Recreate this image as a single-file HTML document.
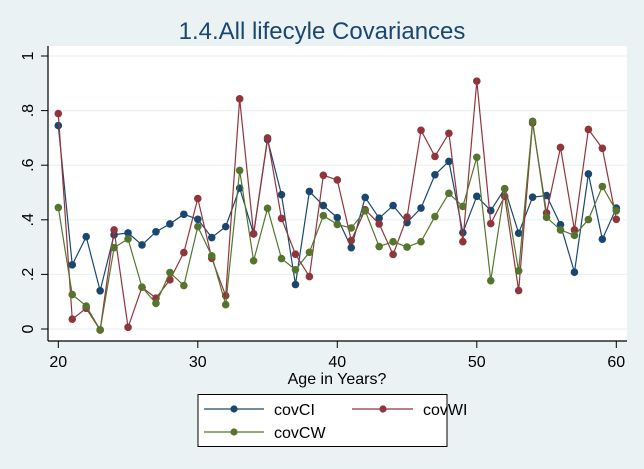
<!DOCTYPE html>
<html><head><meta charset="utf-8"><style>
body{margin:0;background:#eaf2f3;}
svg{display:block;font-family:"Liberation Sans",Arial,sans-serif;}
</style></head><body>
<svg id="chart" width="644" height="469" viewBox="0 0 644 469">
<rect x="0" y="0" width="644" height="469" fill="#eaf2f3"/>
<text x="322" y="39" text-anchor="middle" font-size="24" fill="#1a476f">1.4.All lifecyle Covariances</text>
<rect x="48" y="46" width="579" height="295" fill="#ffffff"/>
<g id="grid"></g>
<g id="axes"></g>
<g id="series"></g>
<text x="337" y="384" text-anchor="middle" font-size="16" fill="#000">Age in Years?</text>
<g>
<rect x="198" y="394.5" width="249" height="52" fill="#fff" stroke="#000" stroke-width="1"/>
<g>
<line x1="204" y1="409" x2="264" y2="409" stroke="#1a476f" stroke-width="1.2"/>
<circle cx="234" cy="409" r="3.6" fill="#1a476f"/>
<text x="274" y="415" font-size="16">covCI</text></g>
<g>
<line x1="352" y1="409" x2="413" y2="409" stroke="#90353b" stroke-width="1.2"/>
<circle cx="383" cy="409" r="3.6" fill="#90353b"/>
<text x="423" y="415" font-size="16">covWI</text></g>
<g>
<line x1="204" y1="432" x2="264" y2="432" stroke="#55752f" stroke-width="1.2"/>
<circle cx="234" cy="432" r="3.6" fill="#55752f"/>
<text x="274" y="438" font-size="16">covCW</text></g>
</g>
</svg>
<script>
const ages = [20,21,22,23,24,25,26,27,28,29,30,31,32,33,34,35,36,37,38,39,40,41,42,43,44,45,46,47,48,49,50,51,52,53,54,55,56,57,58,59,60];
const covCI = [.745,.235,.338,.14,.345,.352,.308,.356,.385,.42,.402,.335,.375,.516,.349,.694,.492,.163,.504,.452,.408,.298,.482,.406,.452,.39,.443,.565,.614,.353,.486,.434,.514,.351,.483,.489,.382,.208,.568,.329,.443];
const covWI = [.789,.036,.076,-.004,.363,.006,.153,.113,.18,.28,.478,.259,.122,.843,.348,.7,.405,.274,.192,.563,.546,.324,.437,.385,.273,.41,.728,.632,.717,.32,.908,.386,.486,.141,.755,.425,.665,.363,.731,.662,.402];
const covCW = [.445,.126,.084,-.003,.298,.33,.153,.094,.207,.159,.375,.268,.089,.581,.25,.442,.258,.217,.281,.415,.383,.37,.433,.302,.32,.3,.32,.412,.497,.449,.629,.177,.514,.213,.761,.409,.363,.343,.401,.522,.433];
const yTicks = [0,.2,.4,.6,.8,1];
const yTickLabels = ["0",".2",".4",".6",".8","1"];
const xTicks = [20,30,40,50,60];
const NS='http://www.w3.org/2000/svg';
const xs = a => 58.3 + (a-20)*13.95;
const ys = v => 329 - v*273;
function mk(tag, attrs, parent){const e=document.createElementNS(NS,tag);for(const k in attrs)e.setAttribute(k,attrs[k]);parent.appendChild(e);return e;}
const grid=document.getElementById('grid'), axes=document.getElementById('axes'), ser=document.getElementById('series');
yTicks.forEach((v,i)=>{
  const g=mk('line',{x1:48,x2:627,y1:ys(v),y2:ys(v),stroke:'#eaf2f3','stroke-width':1.2},grid);
  
  
  const t=mk('line',{x1:41,x2:48,y1:ys(v),y2:ys(v),stroke:'#000'},axes);
  
  
  const l=mk('text',{x:0,y:0,'font-size':16,'text-anchor':'middle',transform:`translate(33,${ys(v)}) rotate(-90)`},axes);
  l.textContent=yTickLabels[i];
  
  
});
const ya=mk('line',{x1:48,x2:48,y1:46,y2:341,stroke:'#000','stroke-width':1.2},axes);


const xa=mk('line',{x1:48,x2:627,y1:341,y2:341,stroke:'#000','stroke-width':1.2},axes);


xTicks.forEach(a=>{
  const t=mk('line',{x1:xs(a),x2:xs(a),y1:341,y2:348,stroke:'#000'},axes);
  
  
  const l=mk('text',{x:xs(a),y:367,'font-size':16,'text-anchor':'middle'},axes);
  l.textContent=a;
  
  
});
function drawSeries(vals,color,name){
  const g=mk('g',{},ser);
  
  
  const pts=vals.map((v,i)=>xs(ages[i])+','+ys(v)).join(' ');
  const pl=mk('polyline',{points:pts,fill:'none',stroke:color,'stroke-width':1.2},g);
  
  
  vals.forEach((v,i)=>{
    const c=mk('circle',{cx:xs(ages[i]),cy:ys(v),r:3.8,fill:color},g);
    
    
  });
}
drawSeries(covCI,'#1a476f','covci');
drawSeries(covWI,'#90353b','covwi');
drawSeries(covCW,'#55752f','covcw');
</script>
</body></html>
